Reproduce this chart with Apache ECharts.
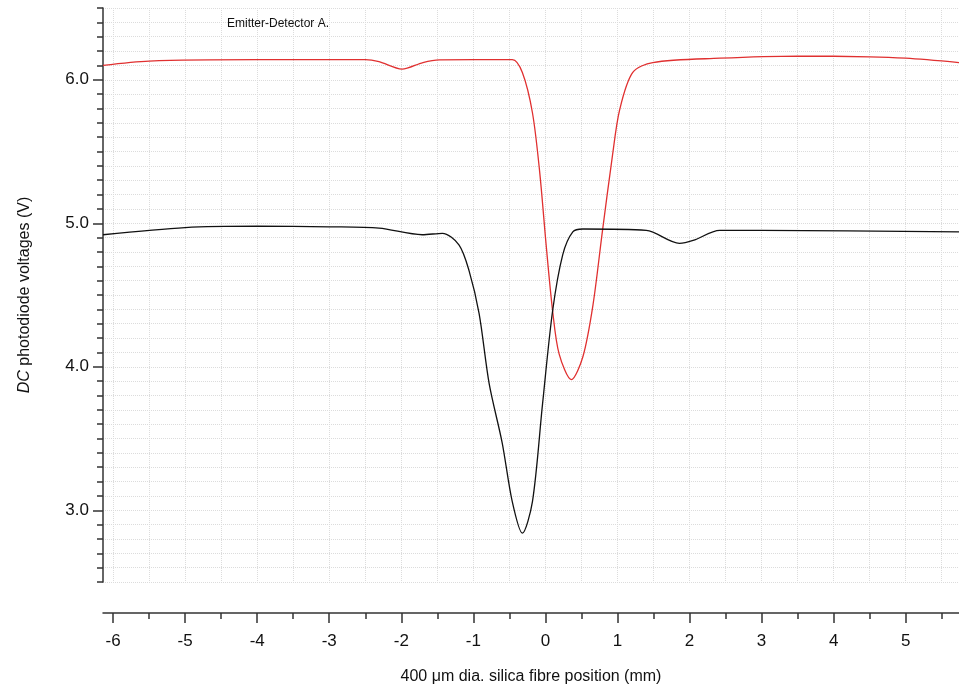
<!DOCTYPE html>
<html><head><meta charset="utf-8">
<script src="https://cdn.jsdelivr.net/npm/echarts@6/dist/echarts.min.js"></script>
<style>html,body{margin:0;background:#fff}#c{width:959px;height:690px}</style>
</head><body><div id="c"></div>
<script>
var redData = [[-6.14,6.10],[-5.5,6.13],[-4,6.14],[-2.5,6.14],[-2.31,6.126],[-1.99,6.074],[-1.7,6.12],[-1.47,6.138],[-0.46,6.14],
  [-0.32,6.05],[-0.18,5.77],[-0.08,5.36],[0.01,4.85],[0.10,4.39],[0.19,4.09],[0.36,3.91],[0.52,4.07],[0.66,4.43],
  [0.79,4.94],[0.93,5.47],[1.03,5.79],[1.21,6.05],[1.49,6.12],[2.42,6.15],[3.5,6.165],[4.5,6.16],[5.0,6.15],[5.74,6.12]];
var blackData = [[-6.14,4.92],[-5,4.97],[-4,4.98],[-3,4.975],[-2.31,4.966],[-1.71,4.92],[-1.43,4.93],[-1.20,4.85],[-1.06,4.67],
  [-0.92,4.37],[-0.78,3.88],[-0.60,3.47],[-0.46,3.06],[-0.32,2.84],[-0.18,3.06],[-0.04,3.74],[0.10,4.39],[0.24,4.78],
  [0.38,4.94],[0.52,4.96],[1.40,4.95],[1.86,4.86],[2.05,4.88],[2.42,4.95],[3,4.95],[5.74,4.94]];
var xMajor = [-6,-5,-4,-3,-2,-1,0,1,2,3,4,5];
var xMinor = [-6,-5.5,-5,-4.5,-4,-3.5,-3,-2.5,-2,-1.5,-1,-0.5,0,0.5,1,1.5,2,2.5,3,3.5,4,4.5,5,5.5];
var yMajor = [3,4,5,6];

var grid = {left:103, right:0, top:8, bottom:103};
var gridLine = {show:true, lineStyle:{color:'#dcdcdc', type:'dotted', width:1}};
var axisCol = '#333';
var chart = echarts.init(document.getElementById('c'));
chart.setOption({
  animation:false,
  grid: grid,
  title: {text:'Emitter-Detector A.', left:222, top:13, textStyle:{fontSize:12, fontWeight:'normal', color:'#111', fontFamily:'Liberation Sans'}},
  xAxis: [
    {type:'value', min:-6.14, max:5.74, position:'bottom', offset:31,
     axisLine:{show:true, onZero:false, lineStyle:{color:axisCol, width:1.5}},
     axisTick:{show:true, customValues:xMajor, length:10, lineStyle:{color:axisCol, width:1.5}},
     axisLabel:{customValues:xMajor, fontSize:17, color:'#111', margin:20, fontFamily:'Liberation Sans'},
     splitLine:{show:false},
     name:'400 \u03bcm dia. silica fibre position (mm)', nameLocation:'middle', nameGap:56,
     nameTextStyle:{fontSize:16, color:'#111', fontFamily:'Liberation Sans'}},
    {type:'value', min:-6.14, max:5.74, position:'bottom', offset:31,
     axisLine:{show:false, onZero:false},
     axisTick:{show:true, customValues:xMinor, length:6, lineStyle:{color:axisCol, width:1.5}},
     axisLabel:{show:false},
     splitLine:gridLine}
  ],
  yAxis: [
    {type:'value', min:2.5, max:6.5, position:'left',
     axisLine:{show:true, onZero:false, lineStyle:{color:axisCol, width:1.5}},
     axisTick:{show:true, customValues:yMajor, length:10, lineStyle:{color:axisCol, width:1.5}},
     axisLabel:{customValues:yMajor, fontSize:17, color:'#111', margin:14, fontFamily:'Liberation Sans',
       formatter:function(v){return v.toFixed(1);}},
     splitLine:{show:false},
     name:'{i|DC} photodiode voltages (V)', nameLocation:'middle', nameGap:70,
     nameTextStyle:{fontSize:16, color:'#111', fontFamily:'Liberation Sans',
       rich:{i:{fontStyle:'italic', fontSize:16, color:'#111', fontFamily:'Liberation Sans'}}}},
    {type:'value', min:2.5, max:6.5, interval:0.1, position:'left',
     axisLine:{show:false, onZero:false},
     axisTick:{show:true, length:6, lineStyle:{color:axisCol, width:1.5}},
     axisLabel:{show:false},
     splitLine:gridLine}
  ],
  series: [
    {type:'line', data:redData, smooth:0.3, showSymbol:false, lineStyle:{color:'#e03030', width:1.3}},
    {type:'line', data:blackData, smooth:0.3, showSymbol:false, lineStyle:{color:'#111', width:1.3}}
  ]
});
</script></body></html>
